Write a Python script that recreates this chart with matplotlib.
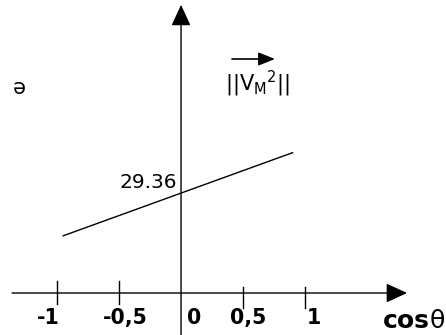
import matplotlib
matplotlib.use("Agg")
import matplotlib.pyplot as plt

# data
cos_theta = [-0.95, 0.9]          # ends of the drawn line
energy = [16.8, 41.2]             # values at those ends
intercept = 29.36                 # value at cos(theta) = 0
tick_values = [-1, -0.5, 0, 0.5, 1]
tick_labels = ["-1", "-0,5", "0", "0,5", "1"]

fig = plt.figure(figsize=(4.46, 3.35), dpi=100)
ax = fig.add_axes([0, 0, 1, 1])
ax.axis("off")
ax.set_xlim(-1.46, 2.137)
ax.set_ylim(-12.33, 86.02)

# axes with arrow heads
arrow = dict(arrowstyle="-|>,head_length=1.3,head_width=0.6", color="black",
             lw=1.0, shrinkA=0, shrinkB=0)
ax.annotate("", xy=(1.823, 0), xytext=(-1.363, 0), arrowprops=arrow)
ax.annotate("", xy=(0, 84.6), xytext=(0, -12.33), arrowprops=arrow)

# tick marks and labels
nudge = {-1: -9, -0.5: 6, 0: 13, 0.5: 5, 1: 9}
for v, lab in zip(tick_values, tick_labels):
    if v == 0:
        pass
    elif v < 0:
        ax.plot([v, v], [3.5, -3.2], color="black", lw=1.0)
    else:
        ax.plot([v, v], [1.8, -4.4], color="black", lw=1.0)
    ax.annotate(lab, xy=(v, -7.3), xytext=(nudge[v], 0), textcoords="offset pixels",
                ha="center", va="center", fontsize=14.8, fontweight="bold")

# the line
ax.plot(cos_theta, energy, color="black", lw=1.0)
ax.text(-0.03, 32.3, f"{intercept:.2f}", ha="right", va="center", fontsize=14.5)

# vector label
ax.annotate("", xy=(0.758, 68.7), xytext=(0.411, 68.7),
            arrowprops=dict(arrowstyle="-|>,head_length=1.0,head_width=0.4",
                            color="black", lw=1.2, shrinkA=0, shrinkB=0))
ax.text(0.62, 61.3, r"$\mathregular{||V_M{}^2||}$", ha="center", va="center",
        fontsize=15)

# x axis label
t_cos = ax.text(1.629, -10.3, "cos", ha="left", va="baseline", fontsize=18,
                fontweight="bold")
ax.annotate("θ", xy=(1, 0), xycoords=t_cos, ha="left", va="bottom", fontsize=18)

# cut off y label
ax.text(-1.323, 60.8, "e", rotation=180, ha="center", va="center", fontsize=15)

fig.savefig("out.png", dpi=100)
